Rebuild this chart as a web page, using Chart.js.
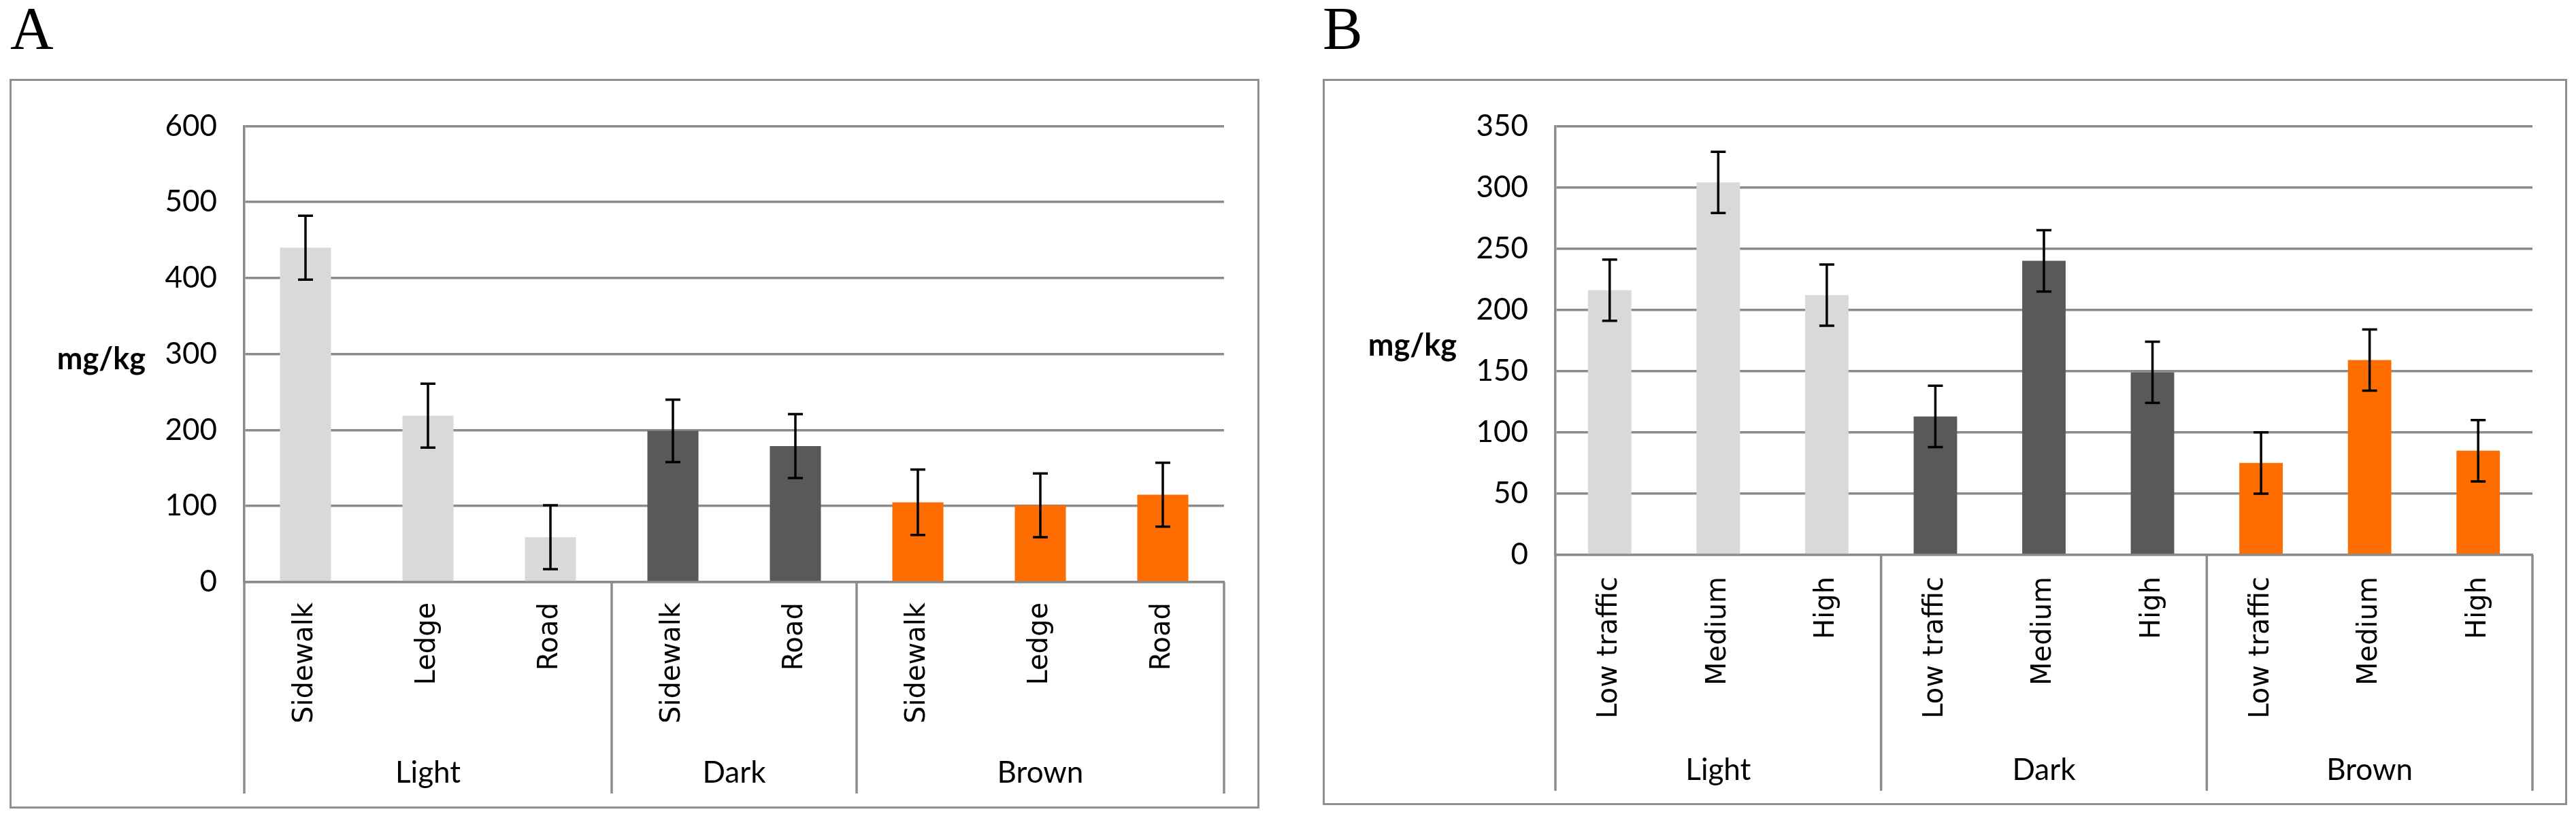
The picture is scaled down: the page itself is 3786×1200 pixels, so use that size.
<!DOCTYPE html>
<html>
<head>
<meta charset="utf-8">
<script src="https://cdn.jsdelivr.net/npm/chart.js@4"></script>
<style>
  html, body { margin: 0; padding: 0; background: #fff; }
  body { width: 3786px; height: 1200px; position: relative; overflow: hidden; }
  .letter { position: absolute; top: -2px; font-family: "Liberation Serif", serif; font-size: 88px; line-height: 88px; color: #000; }
  .box { position: absolute; border: 3px solid #8e8e8e; box-sizing: border-box; }
  .box canvas { position: absolute; left: 0; top: 0; }
</style>
</head>
<body>
<div class="letter" style="left:15px;">A</div>
<div class="letter" style="left:1944px;">B</div>
<div class="box" id="boxA" style="left:14px; top:116px; width:1837px; height:1073px;"><canvas id="chartA"></canvas></div>
<div class="box" id="boxB" style="left:1944px; top:116px; width:1829px; height:1068px;"><canvas id="chartB"></canvas></div>
<script>
// shared groups
const groupNames = ['Light', 'Dark', 'Brown'];
const groupColors = ['#d9d9d9', '#595959', '#ff6d00'];
const yTitle = 'mg/kg';

// panel A
const labelsA = ['Sidewalk', 'Ledge', 'Road', 'Sidewalk', 'Road', 'Sidewalk', 'Ledge', 'Road'];
const groupSizesA = [3, 2, 3];
const valuesA = [440, 219, 59, 199, 179, 105, 101, 115];
const errorsA = [42, 42, 42, 41, 42, 43, 42, 42];
const yMaxA = 600, yStepA = 100;

// panel B
const labelsB = ['Low traffic', 'Medium', 'High', 'Low traffic', 'Medium', 'High', 'Low traffic', 'Medium', 'High'];
const groupSizesB = [3, 3, 3];
const valuesB = [216, 304, 212, 113, 240, 149, 75, 159, 85];
const errorsB = [25, 25, 25, 25, 25, 25, 25, 25, 25];
const yMaxB = 350, yStepB = 50;

const gridColor = '#8c8c8c';

function colorsFor(sizes) {
    let out = [];
    sizes.forEach((n, g) => { for (let i = 0; i < n; i++) out.push(groupColors[g]); });
    return out;
}

// error bars, horizontal y-title, group separators + names
const extras = {
    id: 'extras',
    afterDatasetsDraw(chart) {
        const o = chart.options.plugins.extras;
        const ctx = chart.ctx, y = chart.scales.y;
        const meta = chart.getDatasetMeta(0);
        ctx.save();
        ctx.strokeStyle = '#000';
        ctx.lineWidth = 3.5;
        meta.data.forEach((bar, i) => {
            const v = chart.data.datasets[0].data[i], e = o.errors[i];
            const y1 = y.getPixelForValue(v + e), y2 = y.getPixelForValue(v - e);
            ctx.beginPath();
            ctx.moveTo(bar.x, y1); ctx.lineTo(bar.x, y2);
            ctx.moveTo(bar.x - 11, y1); ctx.lineTo(bar.x + 11, y1);
            ctx.moveTo(bar.x - 11, y2); ctx.lineTo(bar.x + 11, y2);
            ctx.stroke();
        });
        ctx.restore();
    },
    afterDraw(chart) {
        const o = chart.options.plugins.extras;
        const ctx = chart.ctx, x = chart.scales.x, area = chart.chartArea;
        const half = (x.getPixelForValue(1) - x.getPixelForValue(0)) / 2;
        ctx.save();
        // separators
        ctx.strokeStyle = gridColor;
        ctx.lineWidth = 3.5;
        let idx = 0;
        const bounds = [x.getPixelForValue(0) - half];
        o.groups.forEach(n => { idx += n; bounds.push(x.getPixelForValue(idx - 1) + half); });
        ctx.beginPath();
        bounds.forEach(bx => { ctx.moveTo(bx, area.bottom); ctx.lineTo(bx, area.bottom + o.sepLen); });
        ctx.stroke();
        // group names
        ctx.fillStyle = '#000';
        ctx.font = '44px Lato';
        ctx.textAlign = 'center';
        ctx.textBaseline = 'middle';
        groupNames.forEach((name, g) => {
            ctx.fillText(name, (bounds[g] + bounds[g + 1]) / 2, area.bottom + o.groupY);
        });
        // y title, horizontal
        ctx.font = 'bold 45px Lato';
        ctx.textAlign = 'right';
        ctx.fillText(yTitle, area.left - 145, (area.top + area.bottom) / 2 + 8);
        ctx.restore();
    }
};

function makeChart(id, labels, values, errors, sizes, yMax, yStep, barPct, xHeight, rightPad, tickPad, sepLen, groupY) {
    return new Chart(document.getElementById(id), {
        type: 'bar',
        data: {
            labels: labels,
            datasets: [{
                data: values,
                backgroundColor: colorsFor(sizes),
                borderWidth: 0,
                categoryPercentage: 1,
                barPercentage: barPct,
            }],
        },
        options: {
            responsive: true,
            maintainAspectRatio: false,
            animation: false,
            devicePixelRatio: 1,
            layout: { padding: { left: 0, top: 48, right: rightPad, bottom: 0 } },
            plugins: {
                legend: { display: false },
                tooltip: { enabled: false },
                extras: { errors: errors, groups: sizes, sepLen: sepLen, groupY: groupY },
            },
            scales: {
                x: {
                    grid: { display: false, drawTicks: false },
                    border: { display: true, color: gridColor, width: 3.5 },
                    ticks: {
                        autoSkip: false,
                        minRotation: 90,
                        maxRotation: 90,
                        padding: tickPad,
                        color: '#000',
                        font: { family: '"DejaVu Sans", sans-serif', size: 40 },
                    },
                    afterFit(s) { s.height = xHeight; },
                },
                y: {
                    min: 0,
                    max: yMax,
                    grid: { color: gridColor, lineWidth: 3.5, drawTicks: false },
                    border: { display: true, color: gridColor, width: 3.5 },
                    ticks: {
                        stepSize: yStep,
                        padding: 40,
                        color: '#000',
                        font: { family: 'Lato', size: 44 },
                    },
                    afterFit(s) { s.width = id === 'chartA' ? 342 : 339; },
                },
            },
        },
        plugins: [extras],
    });
}

makeChart('chartA', labelsA, valuesA, errorsA, groupSizesA, yMaxA, yStepA, 0.417, 330, 49, 30, 311, 281);
makeChart('chartB', labelsB, valuesB, errorsB, groupSizesB, yMaxB, yStepB, 0.4, 365, 48, 32, 347, 317);
</script>
</body>
</html>
